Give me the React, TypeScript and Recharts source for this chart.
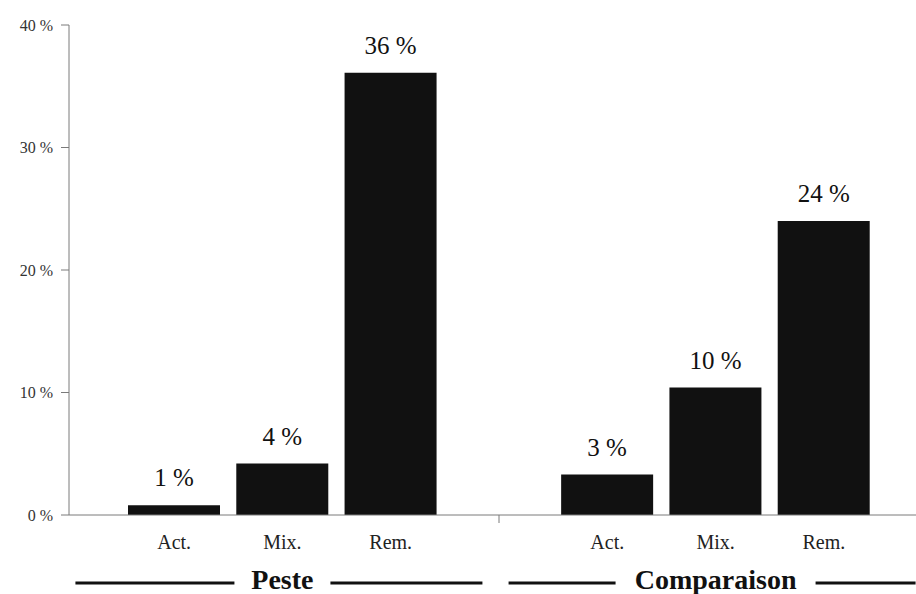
import { BarChart, Bar, XAxis, YAxis, LabelList } from 'recharts'

const groups = ['Peste', 'Comparaison']
const categories = ['Act.', 'Mix.', 'Rem.']
const pesteValues = [0.8, 4.2, 36.1]
const comparaisonValues = [3.3, 10.4, 24.0]
const pesteLabels = ['1 %', '4 %', '36 %']
const comparaisonLabels = ['3 %', '10 %', '24 %']
const yTicks = [0, 10, 20, 30, 40]

const SERIF = '"Times New Roman", Times, "Liberation Serif", "DejaVu Serif", "Noto Serif", serif'
const AXIS = '#7a7a7a'

// peste bars, empty slot, comparaison bars
const rows = [
  ...categories.map((c, i) => ({ key: `p${i}`, cat: c, group: groups[0], value: pesteValues[i], label: pesteLabels[i] })),
  { key: 'gap', cat: '', group: '', value: null as number | null, label: '' },
  ...categories.map((c, i) => ({ key: `c${i}`, cat: c, group: groups[1], value: comparaisonValues[i], label: comparaisonLabels[i] })),
]

// half widths of the group titles, for the rules either side
const groupHalf: Record<string, number> = { Peste: 34, Comparaison: 86 }

function XTick(props: any) {
  const { x, y, index } = props
  const row = rows[index]
  if (!row) return null
  if (!row.cat) {
    return <line x1={x} x2={x} y1={y} y2={y + 8} stroke={AXIS} strokeWidth={1} />
  }
  const showGroup = row.cat === 'Mix.'
  const hw = groupHalf[row.group] || 40
  return (
    <g>
      <text x={x} y={y + 34} textAnchor="middle" fontFamily={SERIF} fontSize={20} fill="#222">
        {row.cat}
      </text>
      {showGroup && (
        <g>
          <line x1={x - 207} x2={x - hw - 14} y1={y + 68} y2={y + 68} stroke="#111" strokeWidth={3} />
          <text x={x} y={y + 74} textAnchor="middle" fontFamily={SERIF} fontSize={28} fontWeight="bold" fill="#111">
            {row.group}
          </text>
          <line x1={x + hw + 14} x2={x + 200} y1={y + 68} y2={y + 68} stroke="#111" strokeWidth={3} />
        </g>
      )}
    </g>
  )
}

export default function App() {
  return (
    <div style={{ position: 'absolute', left: 0, top: 0, background: '#fff', fontFamily: SERIF }}>
      <BarChart width={916} height={594} data={rows} margin={{ top: 25, right: 0, bottom: 0, left: 0 }} barSize={92}>
        <XAxis
          dataKey="key"
          interval={0}
          height={79}
          tickLine={false}
          tickSize={0}
          tickMargin={0}
          padding={{ left: 51, right: 38 }}
          axisLine={{ stroke: AXIS }}
          tick={<XTick />}
        />
        <YAxis
          width={69}
          domain={[0, 40]}
          ticks={yTicks}
          interval={0}
          tickSize={8}
          tickMargin={8}
          axisLine={{ stroke: AXIS }}
          tickLine={{ stroke: AXIS }}
          tickFormatter={(v: number) => `${v} %`}
          tick={{ fontSize: 16, fill: '#333', fontFamily: SERIF }}
        />
        <Bar dataKey="value" fill="#111" isAnimationActive={false}>
          <LabelList dataKey="label" position="top" offset={19} fontSize={25} fill="#111" fontFamily={SERIF} />
        </Bar>
      </BarChart>
    </div>
  )
}
